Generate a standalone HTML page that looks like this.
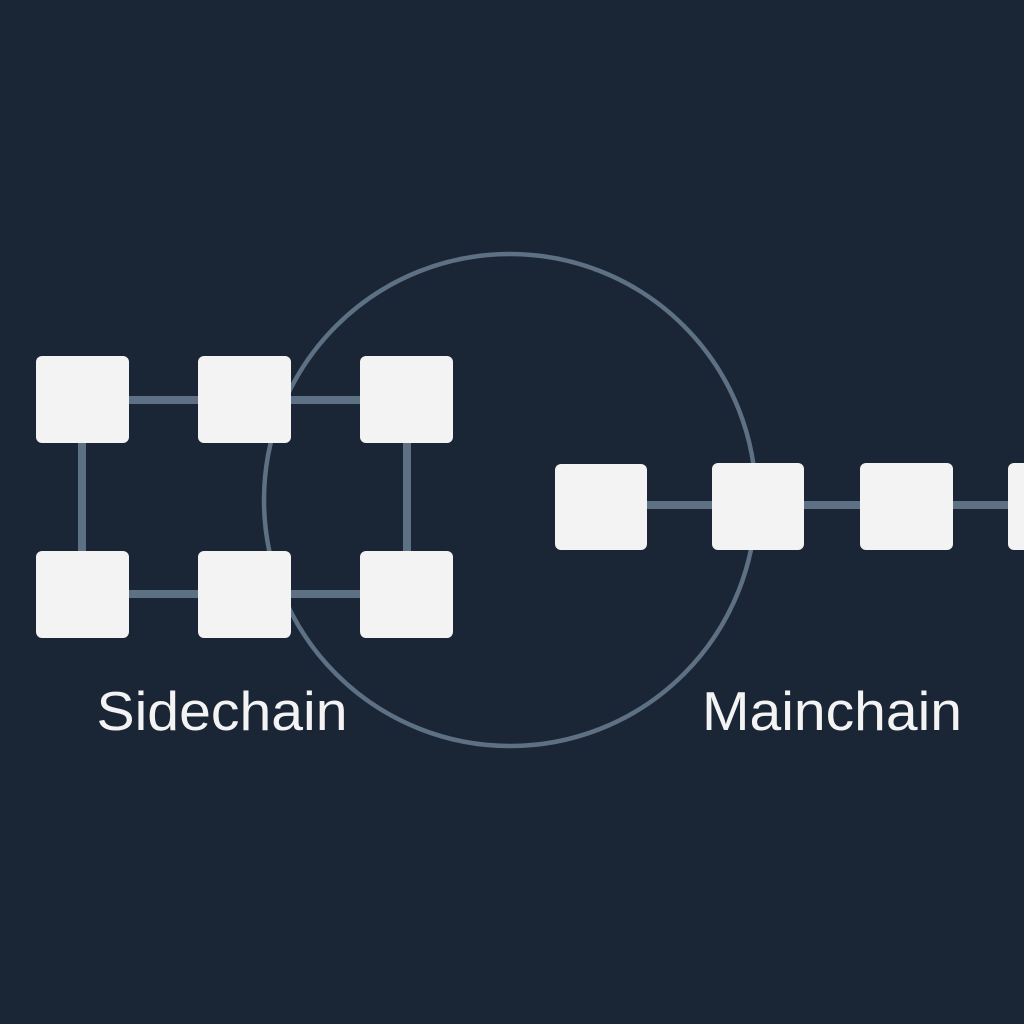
<!DOCTYPE html>
<html><head><style>
html,body{margin:0;padding:0;background:#1a2636;}
svg{display:block}
</style></head><body>
<svg width="1024" height="1024" viewBox="0 0 1024 1024" xmlns="http://www.w3.org/2000/svg">
<rect width="1024" height="1024" fill="#1a2636"/>
<circle cx="510" cy="500" r="246" fill="none" stroke="#5e7184" stroke-width="4.5"/>
<g stroke="#5e7184" stroke-width="8">
<line x1="129" y1="400" x2="360" y2="400"/>
<line x1="129" y1="594" x2="360" y2="594"/>
<line x1="82" y1="442" x2="82" y2="551"/>
<line x1="407" y1="442" x2="407" y2="551"/>
<line x1="647" y1="505" x2="1024" y2="505"/>
</g>
<g fill="#f3f3f3">
<rect x="36" y="356" width="93" height="87" rx="6"/>
<rect x="198" y="356" width="93" height="87" rx="6"/>
<rect x="360" y="356" width="93" height="87" rx="6"/>
<rect x="36" y="551" width="93" height="87" rx="6"/>
<rect x="198" y="551" width="93" height="87" rx="6"/>
<rect x="360" y="551" width="93" height="87" rx="6"/>
<rect x="555" y="464" width="92" height="86" rx="6"/>
<rect x="712" y="463" width="92" height="87" rx="6"/>
<rect x="860" y="463" width="93" height="87" rx="6"/>
<rect x="1008" y="463" width="40" height="87" rx="6"/>
</g>
<g fill="#f3f3f3" font-family="Liberation Sans, sans-serif" font-size="55">
<text x="222" y="730" text-anchor="middle" textLength="251" lengthAdjust="spacingAndGlyphs">Sidechain</text>
<text x="832" y="730" text-anchor="middle" textLength="260" lengthAdjust="spacingAndGlyphs">Mainchain</text>
</g>
</svg>
</body></html>
